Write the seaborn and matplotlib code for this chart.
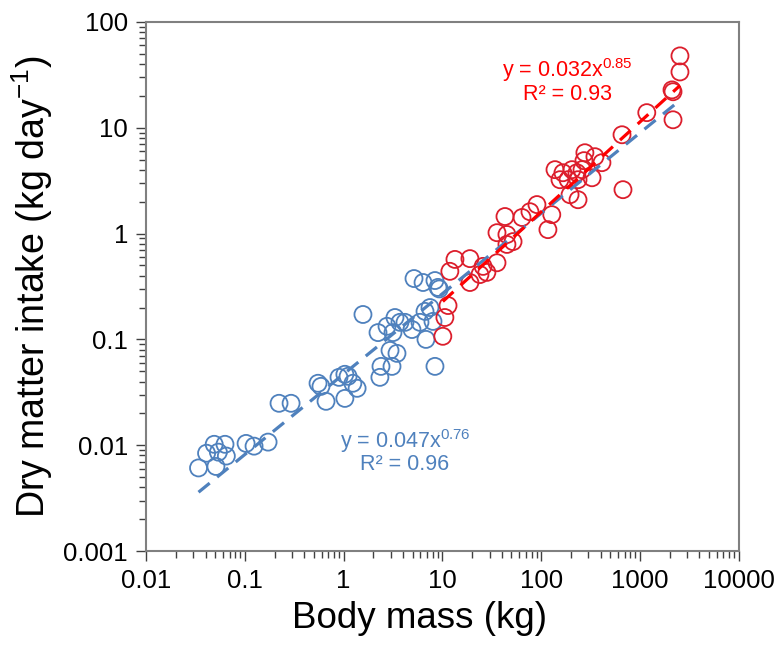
import numpy as np
import pandas as pd
import matplotlib
matplotlib.use("Agg")
import matplotlib.pyplot as plt
import matplotlib.ticker as mticker
import seaborn as sns

# small-bodied species (blue)
small_mass = [0.034, 0.041, 0.049, 0.063, 0.054, 0.065, 0.051, 0.103, 0.124, 0.172,
              0.222, 0.294, 0.551, 0.59, 0.664, 0.898, 1.03, 1.11, 1.03, 1.24,
              1.37, 1.57, 2.23, 2.75, 3.16, 3.72, 4.18, 4.92, 5.93, 6.67,
              7.49, 8.03, 6.82, 2.95, 3.47, 2.39, 3.09, 2.33, 8.41, 5.16,
              6.37, 8.41, 9.02, 3.31, 9.3]
small_dmi = [0.0061, 0.0084, 0.0102, 0.0102, 0.0086, 0.0079, 0.0063, 0.0104, 0.0098, 0.0107,
             0.0249, 0.0249, 0.0385, 0.036, 0.026, 0.0438, 0.0468, 0.0448, 0.0277, 0.0385,
             0.0345, 0.172, 0.116, 0.133, 0.116, 0.145, 0.145, 0.124, 0.145, 0.184,
             0.200, 0.148, 0.100, 0.0787, 0.0738, 0.0556, 0.0556, 0.0438, 0.0556, 0.376,
             0.345, 0.36, 0.31, 0.161, 0.30]

# large-bodied species (red)
large_mass = [2540, 2540, 2110, 2160, 2160, 1172, 658, 673, 412, 350,
              277, 271, 327, 259, 230, 205, 166, 138, 155, 196,
              236, 187, 236, 128, 90.6, 77, 64, 117, 43, 35.7,
              45, 51.9, 45, 19, 13.4, 11.9, 25.8, 35.7, 28.2, 24,
              19, 11.4, 10.6, 10.1]
large_dmi = [47.8, 33.7, 22.8, 21.9, 11.9, 13.9, 8.59, 2.6, 4.68, 5.33,
             5.81, 4.89, 3.37, 4.02, 3.76, 4.02, 3.76, 4.02, 3.23, 2.33,
             2.09, 3.23, 3.23, 1.51, 1.88, 1.61, 1.42, 1.09, 1.45, 1.02,
             0.98, 0.84, 0.79, 0.58, 0.57, 0.44, 0.49, 0.53, 0.43, 0.41,
             0.345, 0.209, 0.161, 0.107]

# power-law fits shown on the chart
small_fit = (0.047, 0.76)
large_fit = (0.032, 0.85)

blue = "#4F81BD"
red = "#DC1E2C"

sns.set_style("white")
plt.rcParams["font.family"] = ["Liberation Sans", "DejaVu Sans"]
plt.rcParams["mathtext.fontset"] = "custom"
plt.rcParams["mathtext.rm"] = "Liberation Sans"
plt.rcParams["mathtext.it"] = "Liberation Sans:italic"
plt.rcParams["text.color"] = "black"
plt.rcParams["axes.labelcolor"] = "black"

small = pd.DataFrame({"mass": small_mass, "dmi": small_dmi})
large = pd.DataFrame({"mass": large_mass, "dmi": large_dmi})

fig = plt.figure(figsize=(7.83, 6.46), dpi=100)
ax = fig.add_axes([0.1865, 0.147, 0.757, 0.819])
ax.set_xscale("log")
ax.set_yscale("log")

for df, col in [(small, blue), (large, red)]:
    sns.scatterplot(data=df, x="mass", y="dmi", ax=ax, s=150, marker="o",
                    linewidth=1.3, legend=False)
    pts = ax.collections[-1]
    pts.set_facecolor("none")
    pts.set_edgecolor(col)

# fit lines over each group's range
xs = np.geomspace(min(small_mass), max(large_mass), 50)
fit_blue = pd.DataFrame({"x": xs, "y": small_fit[0] * xs ** small_fit[1]})
xl = np.geomspace(min(large_mass), max(large_mass), 50)
fit_red = pd.DataFrame({"x": xl, "y": large_fit[0] * xl ** large_fit[1]})
sns.lineplot(data=fit_blue, x="x", y="y", ax=ax, color=blue, lw=2.3,
             dashes=False, linestyle=(0, (4.5, 3)))
sns.lineplot(data=fit_red, x="x", y="y", ax=ax, color="#FF0000", lw=2.3,
             dashes=False, linestyle=(0, (4.5, 3)))

ax.text(186, 35, r"y = 0.032x$^{\mathregular{0.85}}$", color="#FF0000",
        fontsize=15.5, ha="center", va="center")
ax.text(186, 20.5, "R² = 0.93", color="#FF0000", fontsize=15.5, ha="center", va="center")
ax.text(4.18, 0.0109, r"y = 0.047x$^{\mathregular{0.76}}$", color=blue,
        fontsize=15.5, ha="center", va="center")
ax.text(4.18, 0.0066, "R² = 0.96", color=blue, fontsize=15.5, ha="center", va="center")

ax.set_xlim(0.01, 10000)
ax.set_ylim(0.001, 100)
fmt = mticker.FuncFormatter(lambda v, p: "{:g}".format(v))
ax.xaxis.set_major_formatter(fmt)
ax.yaxis.set_major_formatter(fmt)
ax.xaxis.set_major_locator(mticker.LogLocator(base=10, numticks=10))
ax.yaxis.set_major_locator(mticker.LogLocator(base=10, numticks=10))
ax.xaxis.set_minor_locator(mticker.LogLocator(base=10, subs=np.arange(2, 10), numticks=20))
ax.yaxis.set_minor_locator(mticker.LogLocator(base=10, subs=np.arange(2, 10), numticks=20))
ax.xaxis.set_minor_formatter(mticker.NullFormatter())
ax.yaxis.set_minor_formatter(mticker.NullFormatter())

for s in ax.spines.values():
    s.set_color("#808080")
    s.set_linewidth(1.5)
ax.tick_params(which="both", direction="out", bottom=True, left=True, top=False,
               right=False, color="#404040", width=1.0, labelcolor="black")
ax.tick_params(which="major", length=7, labelsize=18.5, pad=6)
ax.tick_params(which="minor", length=5)

ax.set_xlabel("Body mass (kg)", fontsize=26.5)
ax.xaxis.set_label_coords(0.462, -0.095)
ax.set_ylabel(r"Dry matter intake (kg day$^{\mathregular{-1}}$)", fontsize=27, labelpad=6)

fig.savefig("out.png", dpi=100)
